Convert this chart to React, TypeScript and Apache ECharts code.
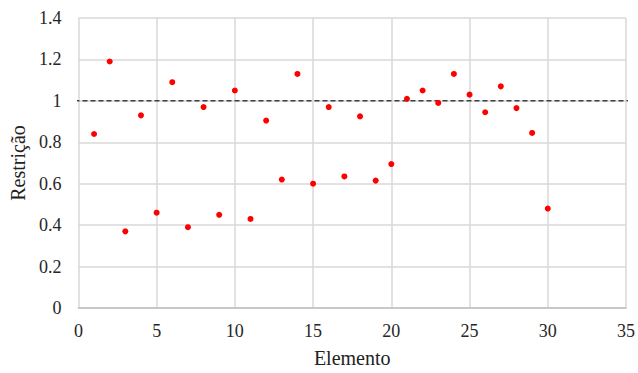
import React, { useEffect, useRef } from "react";
import * as echarts from "echarts";

const elementos = [1,2,3,4,5,6,7,8,9,10,11,12,13,14,15,16,17,18,19,20,21,22,23,24,25,26,27,28,29,30];
const restricao = [0.84,1.19,0.37,0.93,0.46,1.09,0.39,0.97,0.45,1.05,0.43,0.905,0.62,1.13,0.60,0.97,0.635,0.925,0.615,0.695,1.01,1.05,0.99,1.13,1.03,0.945,1.07,0.965,0.845,0.48];
const limiteX = [-0.25, 35.45];
const limiteY = 1;

export default function App() {
  const ref = useRef<HTMLDivElement>(null);
  useEffect(() => {
    if (!ref.current) return;
    const chart = echarts.init(ref.current, null, { renderer: "svg" });
    const font = "Liberation Serif";
    chart.setOption({
      animation: false,
      backgroundColor: "#ffffff",
      textStyle: { fontFamily: font },
      grid: { left: 76, right: 11, top: 18, bottom: 61, containLabel: false },
      xAxis: {
        type: "value",
        min: 0,
        max: 35,
        interval: 5,
        name: "Elemento",
        nameLocation: "middle",
        nameGap: 40,
        nameTextStyle: { fontFamily: font, fontSize: 20, color: "#222" },
        axisLine: { show: true, lineStyle: { color: "#bfbfbf", width: 1.5 } },
        axisTick: { show: false },
        axisLabel: { fontFamily: font, fontSize: 18, color: "#262626", margin: 14 },
        splitLine: { show: true, lineStyle: { color: "#d9d9d9", width: 1.5 } },
      },
      yAxis: {
        type: "value",
        min: 0,
        max: 1.4,
        interval: 0.2,
        name: "Restrição",
        nameLocation: "middle",
        nameGap: 48,
        nameTextStyle: { fontFamily: font, fontSize: 20, color: "#222" },
        axisLine: { show: false },
        axisTick: { show: false },
        axisLabel: {
          fontFamily: font,
          fontSize: 18,
          color: "#262626",
          margin: 17,
          formatter: (v: number) => String(Math.round(v * 10) / 10),
        },
        splitLine: { show: true, lineStyle: { color: "#d9d9d9", width: 1.5 } },
      },
      series: [
        {
          type: "line",
          data: limiteX.map((x) => [x, limiteY]),
          clip: false,
          symbol: "none",
          lineStyle: { color: "#404040", width: 1.5, type: [5, 3] },
          z: 1,
        },
        {
          type: "scatter",
          data: elementos.map((x, i) => [x, restricao[i]]),
          symbol: "circle",
          symbolSize: 6,
          itemStyle: { color: "#ff0000", opacity: 1 },
          z: 3,
        },
      ],
    });
    return () => chart.dispose();
  }, []);
  return (
    <div
      ref={ref}
      style={{ position: "fixed", left: 0, top: 0, width: 638, height: 373, background: "#fff" }}
    />
  );
}
